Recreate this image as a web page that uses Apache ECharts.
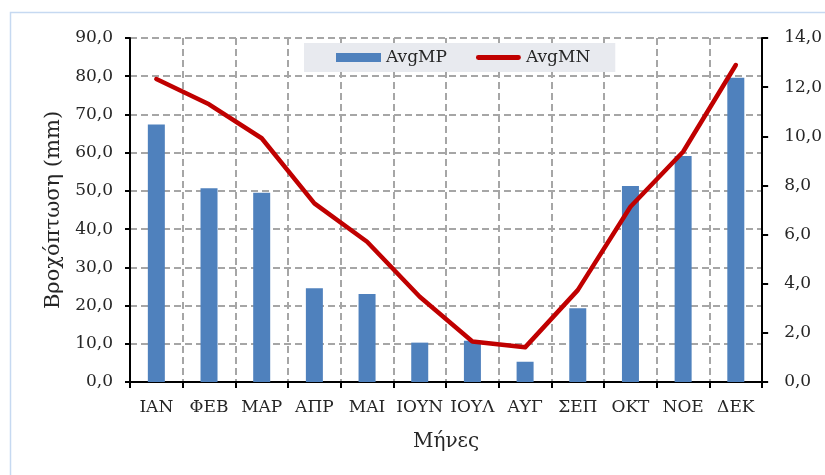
<!DOCTYPE html>
<html>
<head>
<meta charset="utf-8">
<script src="https://cdn.jsdelivr.net/npm/echarts@6/dist/echarts.min.js"></script>
<style>
html,body{margin:0;padding:0;background:#fff;}
#c{width:825px;height:475px;}
</style>
</head>
<body>
<div id="c"></div>
<script>
const categories = ['ΙΑΝ','ΦΕΒ','ΜΑΡ','ΑΠΡ','ΜΑΙ','ΙΟΥΝ','ΙΟΥΛ','ΑΥΓ','ΣΕΠ','ΟΚΤ','ΝΟΕ','ΔΕΚ'];
const avgMP = [67.4, 50.7, 49.5, 24.5, 23.0, 10.3, 10.8, 5.3, 19.3, 51.3, 59.1, 79.6];
const avgMN = [12.33, 11.3, 9.92, 7.27, 5.71, 3.47, 1.65, 1.41, 3.74, 7.13, 9.37, 12.9];
const leftTicks = {min: 0, max: 90, interval: 10};
const rightTicks = {min: 0, max: 14, interval: 2};

const FONT = 'DejaVu Serif';
const TXT = '#262626';
const fmt = v => v.toFixed(1).replace('.', ',');

const chart = echarts.init(document.getElementById('c'), null, {renderer: 'canvas'});
chart.setOption({
  animation: false,
  backgroundColor: '#fff',
  textStyle: {fontFamily: FONT, color: TXT},
  graphic: [{
    type: 'rect',
    shape: {x: 10.5, y: 12.5, width: 900, height: 600},
    style: {fill: 'none', stroke: '#c6d9f1', lineWidth: 1.5},
    silent: true,
    z: -10
  }],
  grid: {left: 130, right: 58, top: 38, bottom: 93, containLabel: false},
  legend: {
    left: 304, top: 43,
    padding: [6, 25, 6, 32],
    backgroundColor: '#e8eaef',
    itemWidth: 45, itemHeight: 9, itemGap: 29,
    textStyle: {fontFamily: FONT, fontSize: 17, color: TXT},
    data: [
      {name: 'AvgMP', icon: 'rect'},
      {name: 'AvgMN', icon: 'path://M2,0 H43 A2.5,2.5 0 0 1 43,5 H2 A2.5,2.5 0 0 1 2,0 Z'}
    ]
  },
  xAxis: {
    type: 'category',
    data: categories,
    name: 'Μήνες',
    nameLocation: 'middle',
    nameGap: 50,
    nameTextStyle: {fontFamily: FONT, fontSize: 20, color: TXT},
    axisLine: {lineStyle: {color: '#000', width: 2}},
    axisTick: {show: true, length: 6, lineStyle: {color: '#000', width: 2}},
    axisLabel: {fontFamily: FONT, fontSize: 17, color: TXT, margin: 17, interval: 0},
    splitLine: {show: true, interval: 0, lineStyle: {color: '#a6a6a6', type: [7, 4], width: 2}}
  },
  yAxis: [{
    type: 'value',
    min: leftTicks.min, max: leftTicks.max, interval: leftTicks.interval,
    name: 'Βροχόπτωση (mm)',
    nameLocation: 'middle',
    nameGap: 66,
    nameTextStyle: {fontFamily: FONT, fontSize: 21, color: TXT},
    axisLine: {show: true, lineStyle: {color: '#000', width: 2}},
    axisTick: {show: true, length: 5, lineStyle: {color: '#000', width: 2}},
    axisLabel: {fontFamily: FONT, fontSize: 17, color: TXT, margin: 17, formatter: fmt},
    splitLine: {show: true, lineStyle: {color: '#a6a6a6', type: [7, 4], width: 2}}
  }, {
    type: 'value',
    position: 'right',
    min: rightTicks.min, max: rightTicks.max, interval: rightTicks.interval,
    axisLine: {show: true, lineStyle: {color: '#000', width: 2}},
    axisTick: {show: true, length: 6, lineStyle: {color: '#000', width: 2}},
    axisLabel: {fontFamily: FONT, fontSize: 17, color: TXT, margin: 22, formatter: fmt},
    splitLine: {show: false}
  }],
  series: [{
    name: 'AvgMP',
    type: 'bar',
    data: avgMP,
    barWidth: 17,
    itemStyle: {color: '#4f81bd'},
    yAxisIndex: 0,
    z: 2
  }, {
    name: 'AvgMN',
    type: 'line',
    data: avgMN,
    yAxisIndex: 1,
    symbol: 'none',
    lineStyle: {color: '#c00000', width: 4.5, cap: 'round', join: 'round'},
    itemStyle: {color: '#c00000'},
    z: 3
  }]
});
</script>
</body>
</html>
